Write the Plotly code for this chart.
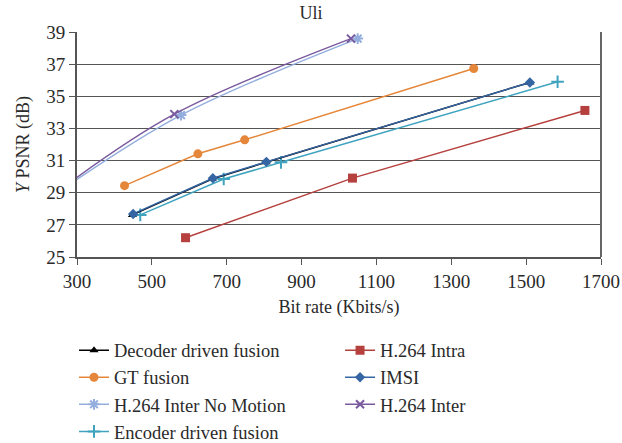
import plotly.graph_objects as go

# Data
dec_x = [448, 661, 805, 1510]
dec_y = [27.62, 29.85, 30.89, 35.86]
imsi_x = [450, 663, 806, 1510]
imsi_y = [27.68, 29.9, 30.92, 35.86]
enc_x = [469, 692, 845, 1584]
enc_y = [27.62, 29.85, 30.89, 35.9]
gt_x = [427, 623, 748, 1360]
gt_y = [29.44, 31.42, 32.29, 36.73]
intra_x = [590, 1036, 1657]
intra_y = [26.2, 29.91, 34.12]
inter_x = [270, 560, 1032]
inter_y = [29.45, 33.89, 38.59]
nomo_x = [270, 578, 1050]
nomo_y = [29.35, 33.83, 38.59]

FONT = "Liberation Serif"
TXT = "#2a2a2a"
fig = go.Figure()

def add(name, x, y, color, symbol, size, legend, shape="linear", mline=None):
    marker = dict(symbol=symbol, size=size, color=color)
    if mline:
        marker["line"] = dict(color=color, width=mline)
    fig.add_trace(go.Scatter(x=x, y=y, name=name, mode="lines+markers",
                             line=dict(color=color, width=1.5, shape=shape),
                             marker=marker, legend=legend))

add("H.264 Intra", intra_x, intra_y, "#B5403D", "square", 9, "legend2")
add("GT fusion", gt_x, gt_y, "#E5873A", "circle", 9, "legend")
add("Encoder driven fusion", enc_x, enc_y, "#3FA3BF", "cross-thin", 9, "legend", mline=2)
add("Decoder driven fusion", dec_x, dec_y, "#000000", "triangle-up", 8, "legend")
add("IMSI", imsi_x, imsi_y, "#3566A3", "diamond", 8, "legend2")
add("H.264 Inter No Motion", nomo_x, nomo_y, "#93AEDD", "asterisk", 9, "legend", shape="spline", mline=2)
add("H.264 Inter", inter_x, inter_y, "#7A5A9E", "x-thin", 8, "legend2", shape="spline", mline=2)

leg_common = dict(font=dict(family=FONT, size=18.5, color=TXT), bgcolor="rgba(0,0,0,0)",
                  orientation="v", xanchor="left", yanchor="top", tracegroupgap=0)
fig.update_layout(
    width=622, height=443,
    margin=dict(l=77, r=21, t=32, b=186, autoexpand=False),
    paper_bgcolor="white", plot_bgcolor="white",
    font=dict(family=FONT, size=19, color=TXT),
    title=dict(text="Uli", x=0.5, xanchor="center", y=0.985, yanchor="top",
               font=dict(family=FONT, size=18, color=TXT)),
    showlegend=True,
    legend=dict(x=-0.0057, y=-0.332, traceorder="normal", **leg_common),
    legend2=dict(x=0.502, y=-0.332, traceorder="normal", **leg_common),
    xaxis=dict(range=[300, 1700], dtick=200, tick0=300, showgrid=False,
               showline=True, linecolor="#555", linewidth=2, mirror=False,
               ticks="outside", ticklen=6, tickcolor="#555", automargin=False,
               ticklabeloverflow="allow",
               tickfont=dict(family=FONT, size=19, color=TXT),
               title=dict(text="Bit rate (Kbits/s)", standoff=10,
                          font=dict(family=FONT, size=18, color=TXT)), zeroline=False),
    yaxis=dict(range=[25, 39], dtick=2, tick0=25, showgrid=True, gridcolor="#555",
               gridwidth=1, showline=True, linecolor="#555", linewidth=2,
               ticks="outside", ticklen=6, tickcolor="#555", automargin=False,
               tickfont=dict(family=FONT, size=19, color=TXT),
               title=dict(text="<i>Y</i> PSNR (dB)", standoff=12,
                          font=dict(family=FONT, size=18, color=TXT)), zeroline=False),
)
fig.add_shape(type="line", xref="paper", yref="paper", x0=1, x1=1, y0=0, y1=1,
              line=dict(color="#666", width=2))

# legend item order (two columns)
order1 = ["Decoder driven fusion", "GT fusion", "H.264 Inter No Motion", "Encoder driven fusion"]
order2 = ["H.264 Intra", "IMSI", "H.264 Inter"]
for tr in fig.data:
    if tr.name in order1:
        tr.legendrank = order1.index(tr.name) + 1
    else:
        tr.legendrank = order2.index(tr.name) + 1

fig.write_html("out.html", config={"displayModeBar": False},
               post_script="document.body.style.margin='0';document.body.style.overflow='hidden';")
